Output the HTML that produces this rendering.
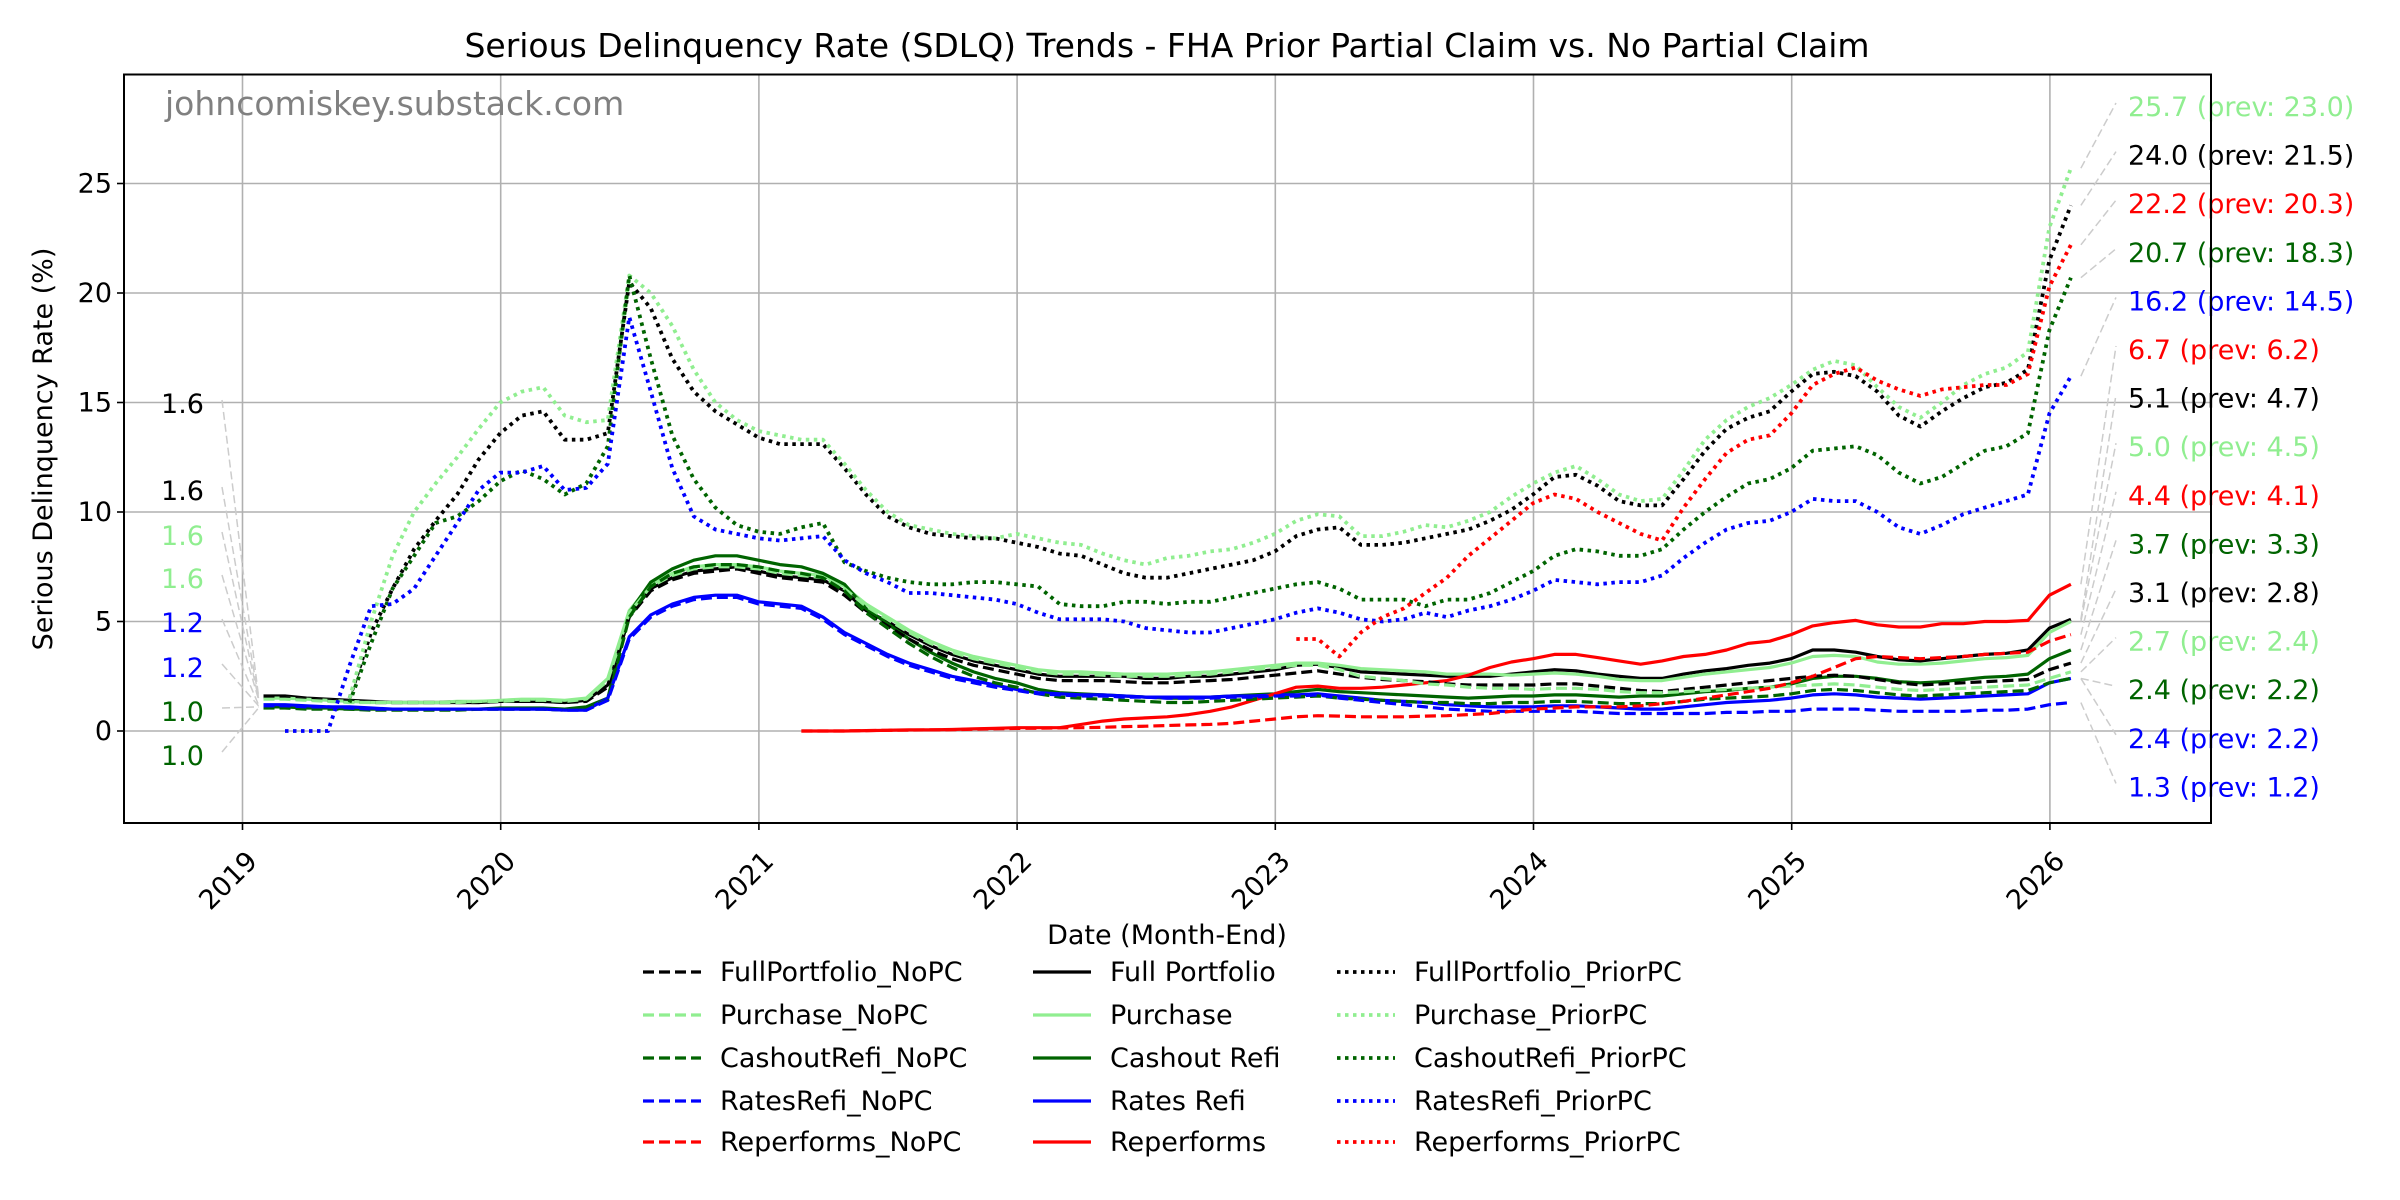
<!DOCTYPE html>
<html><head><meta charset="utf-8">
<style>
html,body{margin:0;padding:0;background:#fff;}
svg{display:block;font-family:"DejaVu Sans","Liberation Sans",sans-serif;}
</style></head>
<body>
<svg id="chart" width="2400" height="1200" viewBox="0 0 2400 1200" xmlns="http://www.w3.org/2000/svg">
<rect x="0" y="0" width="2400" height="1200" fill="#fff"/>
<text x="1167" y="57" font-size="33" text-anchor="middle" fill="#000">Serious Delinquency Rate (SDLQ) Trends - FHA Prior Partial Claim vs. No Partial Claim</text>
<g id="grid"></g>
<g id="series"></g>
<g id="annots"></g>
<rect x="124" y="74.5" width="2087" height="748.5" fill="none" stroke="#000" stroke-width="2"/>
<text x="165" y="115" font-size="33" fill="#808080">johncomiskey.substack.com</text>
<text transform="translate(52,449) rotate(-90)" font-size="27" text-anchor="middle">Serious Delinquency Rate (%)</text>
<text x="1167" y="944" font-size="27" text-anchor="middle">Date (Month-End)</text>
<g id="axes"></g>
<g id="legend"></g>
</svg>
<script>
const years=[2019,2020,2021,2022,2023,2024,2025,2026];
const yTicks=[0,5,10,15,20,25];
const N=null;
const fpPrior=[N,N,N,N,1.5,4.5,6.5,8.3,9.6,10.8,12.4,13.6, 14.4,14.6,13.3,13.3,13.6,20.5,19.3,17,15.5,14.6,14.0,13.4, 13.1,13.1,13.1,12.0,10.8,9.8,9.3,9.0,8.9,8.8,8.8,8.6, 8.4,8.1,8.0,7.6,7.2,7.0,7.0,7.2,7.4,7.6,7.8,8.2, 8.9,9.2,9.3,8.5,8.5,8.6,8.8,9.0,9.2,9.6,10.1,10.8, 11.6,11.7,11.2,10.5,10.3,10.3,11.5,12.8,13.8,14.3,14.6,15.5, 16.3,16.4,16.2,15.5,14.4,13.9,14.6,15.2,15.7,15.9,16.5,21.5, 24.0];
const puPrior=[N,N,N,N,1.5,5,8,10,11.3,12.5,13.8,15.0, 15.5,15.7,14.4,14.1,14.2,20.8,20.0,18.5,16.5,15.0,14.2,13.7, 13.5,13.3,13.3,12.2,11.0,10.0,9.4,9.2,9.0,8.9,8.8,9.0, 8.8,8.6,8.5,8.1,7.8,7.6,7.9,8.0,8.2,8.3,8.6,9.0, 9.6,9.9,9.8,8.9,8.9,9.1,9.4,9.3,9.6,10.0,10.7,11.3, 11.8,12.1,11.5,10.8,10.5,10.6,11.9,13.3,14.2,14.8,15.2,15.8, 16.5,16.9,16.7,15.7,14.8,14.3,15.0,15.8,16.3,16.6,17.3,23.0, 25.7];
const coPrior=[N,N,N,N,1.3,4,6.5,8,9.5,9.8,10.5,11.4, 11.9,11.5,10.8,11.3,13,20.8,17,13.5,11.5,10.2,9.4,9.1, 9.0,9.3,9.5,7.7,7.3,7.0,6.8,6.7,6.7,6.8,6.8,6.7, 6.6,5.8,5.7,5.7,5.9,5.9,5.8,5.9,5.9,6.1,6.3,6.5, 6.7,6.8,6.5,6.0,6.0,6.0,5.7,6.0,6.0,6.3,6.8,7.3, 8.0,8.3,8.2,8.0,8.0,8.3,9.2,10.0,10.7,11.3,11.5,12.0, 12.8,12.9,13.0,12.6,11.8,11.3,11.6,12.2,12.8,13.0,13.6,18.3, 20.7];
const rrPrior=[N,0,0,0,3.0,5.7,5.8,6.5,8,9.5,11,11.8, 11.8,12.1,11.0,11.1,12.2,18.9,15.5,12.0,9.8,9.2,9.0,8.8, 8.7,8.8,8.9,7.8,7.2,6.8,6.3,6.3,6.2,6.1,6.0,5.8, 5.4,5.1,5.1,5.1,5.0,4.7,4.6,4.5,4.5,4.7,4.9,5.1, 5.4,5.6,5.4,5.1,5.0,5.1,5.4,5.2,5.5,5.7,6.0,6.4, 6.9,6.8,6.7,6.8,6.8,7.1,7.9,8.6,9.2,9.5,9.6,10.0, 10.6,10.5,10.5,10.0,9.3,9.0,9.4,9.9,10.2,10.5,10.8,14.5, 16.2];
const rpPrior=[N,N,N,N,N,N,N,N,N,N,N,N, N,N,N,N,N,N,N,N,N,N,N,N, N,N,N,N,N,N,N,N,N,N,N,N, N,N,N,N,N,N,N,N,N,N,N,N, 4.2,4.2,3.4,4.5,5.2,5.6,6.3,7.0,8.0,8.8,9.6,10.4, 10.8,10.6,10.0,9.5,9.0,8.7,10.2,11.5,12.7,13.3,13.5,14.5, 15.8,16.3,16.6,16.0,15.6,15.3,15.6,15.7,15.8,15.8,16.3,20.3, 22.2];
const fpAll=[1.6,1.6,1.5,1.45,1.4,1.35,1.3,1.3,1.3,1.3,1.3,1.35, 1.35,1.35,1.3,1.4,2.1,5.3,6.5,7.0,7.3,7.4,7.5,7.3, 7.1,7.0,6.9,6.4,5.5,5.0,4.4,3.9,3.5,3.2,3.0,2.8, 2.6,2.5,2.5,2.5,2.5,2.4,2.4,2.5,2.5,2.6,2.7,2.8, 3.0,3.05,2.9,2.7,2.65,2.6,2.55,2.5,2.5,2.5,2.6,2.7, 2.8,2.75,2.6,2.5,2.4,2.4,2.6,2.75,2.85,3.0,3.1,3.3, 3.7,3.7,3.6,3.4,3.25,3.2,3.3,3.4,3.5,3.55,3.7,4.7, 5.1];
const puAll=[1.5,1.5,1.45,1.4,1.35,1.3,1.3,1.3,1.3,1.35,1.35,1.4, 1.45,1.45,1.4,1.5,2.4,5.5,6.7,7.2,7.5,7.6,7.6,7.5, 7.3,7.2,7.1,6.6,5.8,5.2,4.6,4.1,3.7,3.4,3.2,3.0, 2.8,2.7,2.7,2.65,2.6,2.6,2.6,2.65,2.7,2.8,2.9,3.0, 3.1,3.1,3.0,2.85,2.8,2.75,2.7,2.6,2.6,2.6,2.55,2.6, 2.65,2.6,2.5,2.35,2.3,2.3,2.45,2.6,2.7,2.8,2.9,3.1, 3.4,3.45,3.4,3.15,3.05,3.05,3.1,3.2,3.3,3.35,3.45,4.5, 5.0];
const coAll=[1.1,1.1,1.05,1.05,1.0,1.0,1.0,1.0,1.0,1.0,1.0,1.05, 1.05,1.05,1.0,1.1,1.5,5.4,6.8,7.4,7.8,8.0,8.0,7.8, 7.6,7.5,7.2,6.7,5.6,4.9,4.2,3.6,3.1,2.7,2.4,2.2, 1.9,1.75,1.7,1.65,1.6,1.55,1.5,1.5,1.55,1.6,1.65,1.7, 1.8,1.9,1.8,1.75,1.7,1.65,1.6,1.55,1.5,1.55,1.6,1.6, 1.65,1.65,1.6,1.55,1.6,1.6,1.7,1.8,1.85,1.95,2.0,2.15, 2.4,2.5,2.5,2.4,2.25,2.2,2.25,2.35,2.45,2.5,2.6,3.3, 3.7];
const rrAll=[1.2,1.2,1.15,1.1,1.1,1.05,1.0,1.0,1.0,1.0,1.0,1.0, 1.0,1.0,0.95,0.95,1.5,4.3,5.3,5.8,6.1,6.2,6.2,5.9, 5.8,5.7,5.2,4.5,4.0,3.5,3.1,2.8,2.5,2.3,2.1,1.9, 1.75,1.7,1.65,1.65,1.6,1.55,1.55,1.55,1.55,1.6,1.6,1.65, 1.65,1.7,1.6,1.5,1.4,1.35,1.3,1.2,1.15,1.1,1.1,1.1, 1.15,1.15,1.1,1.05,1.0,1.0,1.1,1.2,1.3,1.35,1.4,1.5, 1.65,1.7,1.65,1.55,1.5,1.45,1.5,1.55,1.6,1.65,1.7,2.2, 2.4];
const rpAll=[N,N,N,N,N,N,N,N,N,N,N,N, N,N,N,N,N,N,N,N,N,N,N,N, N,0,0,0,0.02,0.03,0.05,0.05,0.07,0.1,0.12,0.15, 0.15,0.15,0.3,0.45,0.55,0.6,0.65,0.75,0.9,1.1,1.4,1.7, 2.0,2.05,1.95,1.95,2.0,2.1,2.2,2.3,2.55,2.9,3.15,3.3, 3.5,3.5,3.35,3.2,3.05,3.2,3.4,3.5,3.7,4.0,4.1,4.4, 4.8,4.95,5.05,4.85,4.75,4.75,4.9,4.9,5.0,5.0,5.05,6.2, 6.7];
const fpNo=[1.55,1.5,1.45,1.4,1.35,1.3,1.3,1.3,1.3,1.3,1.3,1.35, 1.35,1.35,1.3,1.35,2.0,5.2,6.4,6.9,7.2,7.3,7.4,7.2, 7.0,6.9,6.8,6.2,5.4,4.8,4.2,3.7,3.3,3.0,2.8,2.6, 2.4,2.3,2.3,2.3,2.25,2.2,2.2,2.25,2.3,2.35,2.45,2.55, 2.65,2.75,2.6,2.45,2.35,2.3,2.25,2.15,2.1,2.1,2.1,2.1, 2.15,2.15,2.05,1.95,1.85,1.8,1.9,2.0,2.1,2.2,2.3,2.4, 2.5,2.55,2.5,2.35,2.2,2.1,2.15,2.2,2.25,2.3,2.35,2.8, 3.1];
const puNo=[1.45,1.45,1.4,1.35,1.3,1.3,1.3,1.3,1.3,1.3,1.35,1.35, 1.4,1.4,1.35,1.45,2.3,5.4,6.6,7.1,7.4,7.5,7.5,7.4, 7.2,7.1,7.0,6.5,5.7,5.1,4.5,4.0,3.6,3.3,3.1,2.9, 2.7,2.6,2.6,2.55,2.5,2.5,2.5,2.55,2.6,2.7,2.8,2.9, 3.0,3.0,2.8,2.5,2.4,2.3,2.15,2.1,2.0,1.95,1.95,1.9, 1.95,1.95,1.9,1.8,1.75,1.75,1.8,1.85,1.9,1.95,2.0,2.05, 2.1,2.15,2.1,2.0,1.9,1.85,1.9,1.95,2.0,2.05,2.1,2.4, 2.7];
const coNo=[1.05,1.05,1.0,1.0,1.0,0.95,0.95,0.95,0.95,0.95,1.0,1.0, 1.0,1.0,0.95,1.05,1.4,5.2,6.6,7.2,7.5,7.6,7.6,7.5, 7.3,7.2,7.0,6.4,5.4,4.7,4.0,3.4,2.9,2.5,2.2,2.0, 1.7,1.55,1.5,1.45,1.4,1.35,1.3,1.3,1.35,1.4,1.45,1.5, 1.55,1.6,1.5,1.45,1.4,1.35,1.3,1.3,1.25,1.25,1.3,1.3, 1.35,1.35,1.3,1.25,1.25,1.25,1.35,1.45,1.5,1.55,1.6,1.7, 1.85,1.9,1.85,1.75,1.65,1.6,1.65,1.7,1.75,1.8,1.85,2.2, 2.4];
const rrNo=[1.15,1.15,1.1,1.1,1.05,1.0,1.0,1.0,1.0,1.0,1.0,1.0, 1.0,1.0,0.95,0.95,1.4,4.2,5.2,5.7,6.0,6.1,6.1,5.8, 5.7,5.6,5.1,4.4,3.9,3.4,3.0,2.7,2.4,2.2,2.0,1.85, 1.7,1.65,1.6,1.6,1.55,1.55,1.5,1.5,1.5,1.55,1.55,1.6, 1.6,1.65,1.5,1.4,1.3,1.2,1.1,1.0,0.95,0.9,0.9,0.9, 0.9,0.9,0.85,0.8,0.8,0.8,0.8,0.8,0.85,0.85,0.9,0.9, 1.0,1.0,1.0,0.95,0.9,0.9,0.9,0.9,0.95,0.95,1.0,1.2, 1.3];
const rpNo=[N,N,N,N,N,N,N,N,N,N,N,N, N,N,N,N,N,N,N,N,N,N,N,N, N,0,0,0,0.02,0.03,0.04,0.05,0.06,0.08,0.1,0.12, 0.13,0.14,0.15,0.17,0.2,0.22,0.25,0.28,0.3,0.35,0.45,0.55, 0.65,0.7,0.68,0.65,0.65,0.65,0.68,0.7,0.75,0.8,0.9,1.0, 1.05,1.1,1.1,1.1,1.15,1.25,1.35,1.5,1.65,1.8,1.95,2.2, 2.5,2.9,3.3,3.4,3.35,3.3,3.35,3.4,3.5,3.55,3.6,4.1, 4.4];
const seriesNames=["FullPortfolio_NoPC","Purchase_NoPC","CashoutRefi_NoPC","RatesRefi_NoPC","Reperforms_NoPC","Full Portfolio","Purchase","Cashout Refi","Rates Refi","Reperforms","FullPortfolio_PriorPC","Purchase_PriorPC","CashoutRefi_PriorPC","RatesRefi_PriorPC","Reperforms_PriorPC"];
const seriesData=[fpNo,puNo,coNo,rrNo,rpNo,fpAll,puAll,coAll,rrAll,rpAll,fpPrior,puPrior,coPrior,rrPrior,rpPrior];
const rightLabels=["25.7 (prev: 23.0)","24.0 (prev: 21.5)","22.2 (prev: 20.3)","20.7 (prev: 18.3)","16.2 (prev: 14.5)","6.7 (prev: 6.2)","5.1 (prev: 4.7)","5.0 (prev: 4.5)","4.4 (prev: 4.1)","3.7 (prev: 3.3)","3.1 (prev: 2.8)","2.7 (prev: 2.4)","2.4 (prev: 2.2)","2.4 (prev: 2.2)","1.3 (prev: 1.2)"];
const rightOrder=[11,10,14,12,13,9,5,6,4,7,0,1,2,8,3];
const leftLabels=["1.6","1.6","1.6","1.6","1.2","1.2","1.0","1.0"];
const leftOrder=[5,0,6,1,8,3,7,2];

const colors=["#000","#90ee90","#006400","#0000ff","#ff0000"];
const dashes=["11,5",null,"3.5,4.5"];
const X0=124,X1=2211,Y0=74.5,Y1=823;
function xScale(t){return 242.5+(t-2019)*258.2;}
function yScale(v){return 731-v*21.9;}
function monthT(i){return 2019+(i+1)/12-0.002;}
const NS="http://www.w3.org/2000/svg";
function mk(tag,attrs,parent){const e=document.createElementNS(NS,tag);for(const k in attrs)e.setAttribute(k,attrs[k]);parent.appendChild(e);return e;}
const grid=document.getElementById('grid'),axes=document.getElementById('axes');
years.forEach(y=>{
  const x=xScale(y);
  const g=mk('line',{x1:x,x2:x,y1:Y0,y2:Y1,stroke:'#b0b0b0','stroke-width':1.6},grid);
  
  
  mk('line',{x1:x,x2:x,y1:Y1,y2:Y1+7,stroke:'#000','stroke-width':1.6},axes);
  const t=mk('text',{x:0,y:0,'font-size':27,'text-anchor':'middle',transform:`translate(${x-8},${Y1+64}) rotate(-45)`},axes);
  t.textContent=y;
  
  
});
yTicks.forEach(v=>{
  const y=yScale(v);
  const g=mk('line',{x1:X0,x2:X1,y1:y,y2:y,stroke:'#b0b0b0','stroke-width':1.6},grid);
  
  
  mk('line',{x1:X0-7,x2:X0,y1:y,y2:y,stroke:'#000','stroke-width':1.6},axes);
  const t=mk('text',{x:X0-12,y:y+9,'font-size':27,'text-anchor':'end'},axes);
  t.textContent=v;
  
  
});
const sg=document.getElementById('series');
const drawOrder=[5,6,7,8,9,0,1,2,3,4,10,11,12,13,14];
drawOrder.forEach(k=>{
  const d=seriesData[k];let pts=[];
  d.forEach((v,i)=>{if(v!==null)pts.push(xScale(monthT(i)).toFixed(1)+','+yScale(v).toFixed(1));});
  const style=Math.floor(k/5);
  const a={points:pts.join(' '),fill:'none',stroke:colors[k%5],'stroke-width':style===2?3.8:3.2,'stroke-linejoin':'round'};
  if(dashes[style])a['stroke-dasharray']=dashes[style];
  const p=mk('polyline',a,sg);
  
  
});
const an=document.getElementById('annots');
function lastIdx(d){for(let i=d.length-1;i>=0;i--)if(d[i]!==null)return i;return -1;}
function firstIdx(d){for(let i=0;i<d.length;i++)if(d[i]!==null)return i;return -1;}
rightOrder.forEach((k,r)=>{
  const ly=107+r*48.6;const d=seriesData[k];const li=lastIdx(d);
  mk('line',{x1:xScale(monthT(li))+10,y1:yScale(d[li]),x2:2116,y2:ly-4,stroke:'#cccccc','stroke-width':1.5,'stroke-dasharray':'8,4'},an);
  const t=mk('text',{x:2128,y:ly+9,'font-size':27,fill:colors[k%5]},an);
  t.textContent=rightLabels[r];
  
  
});
const leftY=[404,491,536,579,623,668,712,756];
leftOrder.forEach((k,r)=>{
  const ly=leftY[r];const d=seriesData[k];const fi=firstIdx(d);
  mk('line',{x1:222,y1:ly-4,x2:xScale(monthT(fi))-5,y2:yScale(d[fi]),stroke:'#cccccc','stroke-width':1.5,'stroke-dasharray':'8,4'},an);
  const t=mk('text',{x:204,y:ly+9,'font-size':27,fill:colors[k%5],'text-anchor':'end'},an);
  t.textContent=leftLabels[r];
  
  
});
const lg=document.getElementById('legend');
const colX=[643,1033,1337],rowY=[972,1015,1058,1101,1142];
seriesNames.forEach((n,k)=>{
  const c=Math.floor(k/5),r=k%5;
  const g=mk('g',{},lg);
  
  
  const a={x1:colX[c],x2:colX[c]+58,y1:rowY[r],y2:rowY[r],stroke:colors[r],'stroke-width':c===2?3.8:3.2};
  if(dashes[c])a['stroke-dasharray']=dashes[c];
  mk('line',a,g);
  const t=mk('text',{x:colX[c]+77,y:rowY[r]+9,'font-size':27},g);
  t.textContent=n;
});
</script>
</body></html>
